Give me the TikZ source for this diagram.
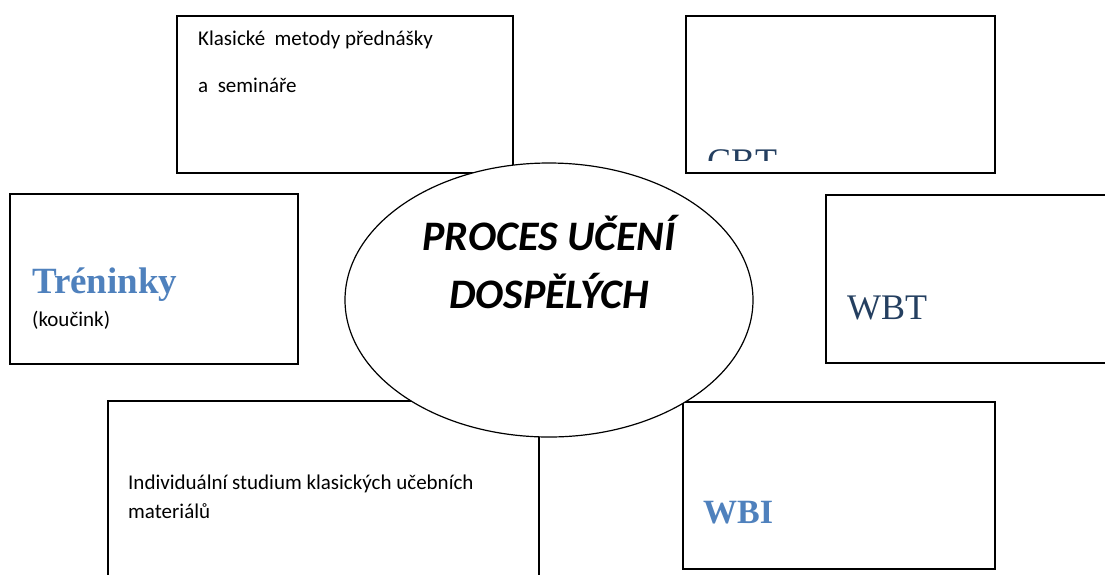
\documentclass[tikz,border=0pt]{standalone}
\usepackage{fontspec}
\setmainfont{Carlito}
\newfontfamily\headfont{Liberation Serif}
\usetikzlibrary{shapes.geometric}
\definecolor{headblue}{HTML}{4F81BD}
\definecolor{titleblue}{HTML}{243F60}

\begin{document}
\begin{tikzpicture}[
    x=1pt, y=-1pt,
    box/.style={
        draw,
        line width=1.6pt,
        anchor=north west,
        inner sep=0pt,
      },
    txt/.style={anchor=base west, inner sep=0pt, font=\fontsize{21}{25}\selectfont},
    head/.style={anchor=base west, inner sep=0pt, text=headblue,
        font=\headfont\bfseries\fontsize{37}{41}\selectfont},
    title/.style={anchor=base west, inner sep=0pt, text=titleblue,
        font=\headfont\fontsize{36}{40}\selectfont},
    bigtitle/.style={anchor=base, inner sep=0pt,
        font=\bfseries\itshape\fontsize{42}{46}\selectfont},
  ]
  \clip (0,0) rectangle (1105,574);
  \fill[white] (0,0) rectangle (1105,574);
  % boxes round the centre
  \node[box, minimum width=336pt, minimum height=157pt] (klasicke) at (176,15) {};
  \node[box, minimum width=309pt, minimum height=157pt] (cbt) at (685,15) {};
  \node[box, minimum width=288pt, minimum height=170pt] (treninky) at (9,193) {};
  \node[box, minimum width=300pt, minimum height=168pt] (wbt) at (825,194) {};
  \node[box, minimum width=431pt, minimum height=200pt] (individualni) at (107,400) {};
  \node[box, minimum width=312pt, minimum height=167pt] (wbi) at (682,401) {};
  % centre
  \node[draw, ellipse, fill=white, line width=1.2pt, inner sep=0pt,
    minimum width=408pt, minimum height=274pt] (proces) at (549,300) {};
  \node[bigtitle] (proces1) at (549,250) {PROCES UČENÍ};
  \node[bigtitle] (proces2) at (549,308) {DOSPĚLÝCH};
  % texts
  \node[txt] (klasicke1) at (198,45) {Klasické\ \ metody přednášky};
  \node[txt] (klasicke2) at (198,92) {a\ \ semináře};
  \begin{scope}
    \clip (685,15) rectangle (994,160);
    \node[title] (cbtlabel) at (707,173) {CBT};
  \end{scope}
  \node[head] (trenlabel) at (32,293) {Tréninky};
  \node[txt] (koucink) at (32,326) {(koučink)};
  \node[title] (wbtlabel) at (847,319) {WBT};
  \node[txt] (indiv1) at (128,489) {Individuální studium klasických učebních};
  \node[txt] (indiv2) at (128,518) {materiálů};
  \node[head, font=\headfont\bfseries\fontsize{34}{38}\selectfont] (wbilabel) at (703,523) {WBI};
\end{tikzpicture}
\end{document}
